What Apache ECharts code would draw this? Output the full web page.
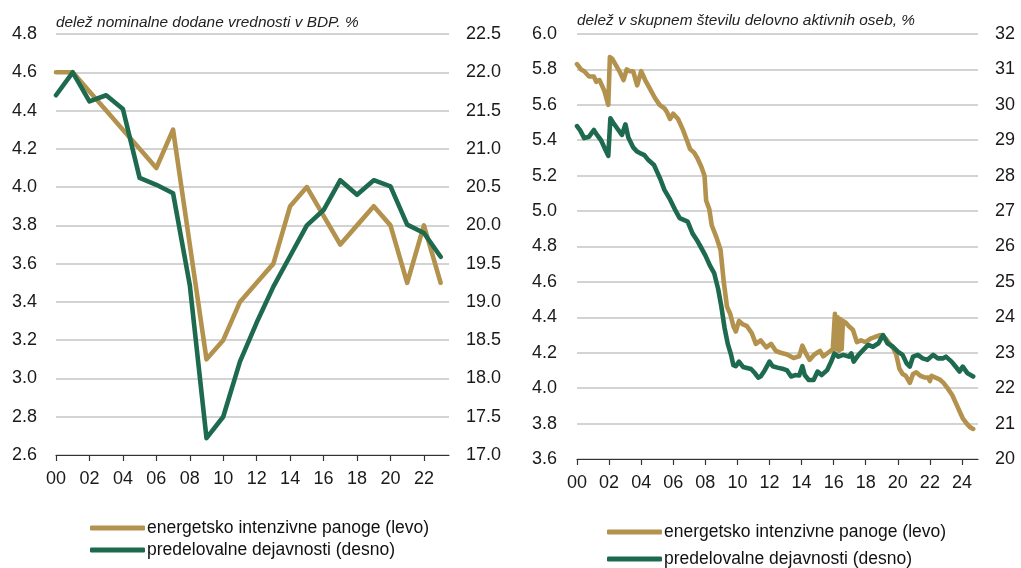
<!DOCTYPE html>
<html>
<head>
<meta charset="utf-8">
<script src="https://cdn.jsdelivr.net/npm/echarts@6/dist/echarts.min.js"></script>
<style>
html, body { margin: 0; padding: 0; background: #fff; }
#chart { width: 1021px; height: 568px; }
</style>
</head>
<body>
<div id="chart"></div>
<script>
// levi graf - letni podatki
const yearsL = [2000, 2001, 2002, 2003, 2004, 2005, 2006, 2007, 2008, 2009, 2010, 2011,
                2012, 2013, 2014, 2015, 2016, 2017, 2018, 2019, 2020, 2021, 2022, 2023]
const energyL = [4.6, 4.6, 4.5, 4.4, 4.3, 4.2, 4.1, 4.3, 3.7, 3.1, 3.2, 3.4,
                 3.5, 3.6, 3.9, 4.0, 3.85, 3.7, 3.8, 3.9, 3.8, 3.5, 3.8, 3.5]
const manufL = [21.7, 22.0, 21.62, 21.7, 21.52, 20.62, 20.53, 20.42, 19.22, 17.22, 17.5, 18.22,
                18.73, 19.2, 19.6, 20.0, 20.2, 20.59, 20.4, 20.59, 20.51, 20.01, 19.9, 19.59]

// desni graf - mesecni podatki (cas v letih)
const energyRX = [2000.0, 2000.25, 2000.45, 2000.75, 2001.05, 2001.2, 2001.4, 2001.7, 2001.95, 2002.05,
                  2002.2, 2002.45, 2002.7, 2002.9, 2003.1, 2003.3, 2003.5, 2003.75, 2004.0, 2004.25,
                  2004.55, 2004.85, 2005.15, 2005.45, 2005.6, 2005.8, 2006.0, 2006.3, 2006.6, 2006.85,
                  2007.05, 2007.3, 2007.5, 2007.75, 2007.95, 2008.05, 2008.25, 2008.4, 2008.7, 2008.95,
                  2009.15, 2009.35, 2009.55, 2009.75, 2009.9, 2010.1, 2010.35, 2010.6, 2010.9, 2011.15,
                  2011.45, 2011.8, 2012.1, 2012.4, 2012.7, 2013.1, 2013.5, 2013.85, 2014.05, 2014.25,
                  2014.5, 2014.8, 2015.15, 2015.35, 2015.65, 2015.95, 2016.04, 2016.08, 2016.17, 2016.25,
                  2016.33, 2016.42, 2016.5, 2016.58, 2016.75, 2016.95, 2017.2, 2017.45, 2017.7, 2018.0,
                  2018.3, 2018.6, 2018.95, 2019.25, 2019.5, 2019.75, 2019.9, 2020.1, 2020.3, 2020.5,
                  2020.75, 2020.95, 2021.15, 2021.4, 2021.7, 2021.9, 2022.0, 2022.1, 2022.35, 2022.6,
                  2022.85, 2023.1, 2023.4, 2023.65, 2023.85, 2024.05, 2024.3, 2024.5, 2024.7]
const energyRY = [5.83, 5.80, 5.79, 5.76, 5.76, 5.73, 5.74, 5.68, 5.60, 5.87,
                  5.86, 5.82, 5.78, 5.74, 5.80, 5.79, 5.79, 5.71, 5.79, 5.74,
                  5.69, 5.64, 5.60, 5.58, 5.56, 5.52, 5.55, 5.52, 5.46, 5.40,
                  5.35, 5.33, 5.30, 5.25, 5.20, 5.06, 5.01, 4.92, 4.85, 4.78,
                  4.60, 4.46, 4.42, 4.35, 4.32, 4.38, 4.36, 4.35, 4.31, 4.25,
                  4.27, 4.23, 4.25, 4.21, 4.20, 4.19, 4.17, 4.18, 4.24, 4.20,
                  4.16, 4.19, 4.21, 4.18, 4.20, 4.22, 4.21, 4.42, 4.22, 4.40,
                  4.21, 4.39, 4.22, 4.38, 4.37, 4.35, 4.33, 4.26, 4.27, 4.26,
                  4.28, 4.29, 4.30, 4.28, 4.25, 4.22, 4.19, 4.11, 4.08, 4.07,
                  4.03, 4.08, 4.09, 4.07, 4.06, 4.06, 4.04, 4.07, 4.06, 4.05,
                  4.03, 4.00, 3.96, 3.91, 3.87, 3.83, 3.80, 3.78, 3.77]

const manufRX = [2000.0, 2000.2, 2000.45, 2000.75, 2001.05, 2001.25, 2001.5, 2001.75, 2001.95, 2002.08,
                 2002.25, 2002.5, 2002.8, 2003.02, 2003.2, 2003.5, 2003.75, 2004.0, 2004.2, 2004.45,
                 2004.8, 2005.0, 2005.2, 2005.45, 2005.8, 2006.1, 2006.4, 2006.65, 2006.9, 2007.2,
                 2007.45, 2007.7, 2008.0, 2008.3, 2008.55, 2008.8, 2009.0, 2009.2, 2009.4, 2009.6,
                 2009.75, 2009.9, 2010.1, 2010.35, 2010.6, 2010.85, 2011.1, 2011.3, 2011.45, 2011.7,
                 2012.0, 2012.2, 2012.5, 2012.8, 2013.1, 2013.35, 2013.6, 2013.85, 2014.05, 2014.2,
                 2014.45, 2014.75, 2015.0, 2015.25, 2015.6, 2015.85, 2016.05, 2016.3, 2016.6, 2016.95,
                 2017.1, 2017.25, 2017.55, 2017.85, 2018.15, 2018.45, 2018.8, 2019.08, 2019.35, 2019.7,
                 2020.0, 2020.3, 2020.55, 2020.75, 2020.95, 2021.25, 2021.55, 2021.85, 2022.2, 2022.5,
                 2022.8, 2023.0, 2023.35, 2023.6, 2023.85, 2024.05, 2024.35, 2024.7]
const manufRY = [29.40, 29.28, 29.06, 29.10, 29.29, 29.15, 29.00, 28.75, 28.56, 29.62,
                 29.50, 29.34, 29.15, 29.45, 29.08, 28.80, 28.68, 28.62, 28.58, 28.44,
                 28.30, 28.10, 27.90, 27.60, 27.33, 27.05, 26.80, 26.75, 26.70, 26.37,
                 26.20, 26.00, 25.75, 25.45, 25.25, 24.80, 24.30, 23.70, 23.25, 22.95,
                 22.65, 22.62, 22.75, 22.60, 22.57, 22.54, 22.42, 22.30, 22.33, 22.50,
                 22.75, 22.62, 22.58, 22.55, 22.50, 22.33, 22.37, 22.36, 22.62, 22.37,
                 22.23, 22.23, 22.47, 22.37, 22.51, 22.75, 22.98, 22.89, 22.94, 22.89,
                 22.98, 22.75, 22.94, 23.08, 23.22, 23.17, 23.27, 23.50, 23.27, 23.17,
                 23.03, 22.94, 22.70, 22.61, 22.89, 22.94, 22.84, 22.80, 22.94, 22.84,
                 22.84, 22.89, 22.75, 22.61, 22.47, 22.61, 22.42, 22.33]

const ticksL = [2000, 2002, 2004, 2006, 2008, 2010, 2012, 2014, 2016, 2018, 2020, 2022]
const ticksR = [2000, 2002, 2004, 2006, 2008, 2010, 2012, 2014, 2016, 2018, 2020, 2022, 2024]

const titleL = 'delež nominalne dodane vrednosti v BDP. %'
const titleR = 'delež v skupnem številu delovno aktivnih oseb, %'
const nameEnergy = 'energetsko intenzivne panoge (levo)'
const nameManuf = 'predelovalne dejavnosti (desno)'

const GOLD = '#B3924E'
const GREEN = '#1E6A4F'
const FONT = '"Liberation Sans", Arial, sans-serif'

let chart = echarts.init(document.getElementById('chart'))

const zip = (xs, ys) => xs.map((x, i) => [x, ys[i]])
const yearLabel = v => String(Math.round(v) % 100).padStart(2, '0')

function xAxisFor(gridIndex, min, max, ticks) {
    return {
        type: 'value',
        gridIndex: gridIndex,
        min: min,
        max: max,
        interval: 2,
        splitLine: { show: false },
        axisLine: { show: true, lineStyle: { color: '#333', width: 1.2 } },
        axisTick: {
            show: true, length: 6, customValues: ticks,
            lineStyle: { color: '#333', width: 1.2 }
        },
        axisLabel: {
            customValues: ticks,
            margin: 15,
            fontSize: 18,
            fontFamily: FONT,
            color: '#1a1a1a',
            formatter: yearLabel
        }
    }
}

function yAxisFor(gridIndex, pos, min, max, interval, margin, digits, grid) {
    return {
        type: 'value',
        gridIndex: gridIndex,
        position: pos,
        min: min,
        max: max,
        interval: interval,
        axisLine: { show: false },
        axisTick: { show: false },
        splitLine: {
            show: grid,
            lineStyle: { color: '#c4c4c4', width: 1.5 }
        },
        axisLabel: {
            margin: margin,
            fontSize: 18,
            fontFamily: FONT,
            color: '#1a1a1a',
            formatter: v => v.toFixed(digits)
        }
    }
}

function lineSeries(name, data, xi, yi, color) {
    return {
        name: name,
        type: 'line',
        xAxisIndex: xi,
        yAxisIndex: yi,
        data: data,
        showSymbol: false,
        symbol: 'none',
        color: color,
        lineStyle: { color: color, width: 4.6, cap: 'round', join: 'round' },
        animation: false
    }
}

function legendAt(left, top, gap) {
    return {
        orient: 'vertical',
        left: left,
        top: top,
        itemGap: gap,
        itemWidth: 55,
        itemHeight: 5,
        icon: 'roundRect',
        padding: 0,
        selectedMode: false,
        data: [nameEnergy, nameManuf],
        textStyle: { fontSize: 17.5, fontFamily: FONT, color: '#111', padding: [0, 0, 0, -3] }
    }
}

let option = {
    backgroundColor: '#fff',
    animation: false,
    title: [
        {
            text: titleL, left: 56, top: 15, padding: 0,
            textStyle: { fontSize: 15.4, fontStyle: 'italic', fontWeight: 'normal', fontFamily: FONT, color: '#222' }
        },
        {
            text: titleR, left: 577, top: 13, padding: 0,
            textStyle: { fontSize: 15.4, fontStyle: 'italic', fontWeight: 'normal', fontFamily: FONT, color: '#222' }
        }
    ],
    legend: [legendAt(90, 519, 4), legendAt(607, 523, 9)],
    grid: [
        { left: 56, right: 572, top: 34, bottom: 113 },
        { left: 577, right: 43, top: 34, bottom: 109 }
    ],
    xAxis: [
        xAxisFor(0, 2000, 2023.5, ticksL),
        xAxisFor(1, 2000, 2025, ticksR)
    ],
    yAxis: [
        yAxisFor(0, 'left', 2.6, 4.8, 0.2, 19, 1, true),
        yAxisFor(0, 'right', 17, 22.5, 0.5, 17, 1, false),
        yAxisFor(1, 'left', 3.6, 6.0, 0.2, 20, 1, true),
        yAxisFor(1, 'right', 20, 32, 1, 17, 0, false)
    ],
    series: [
        lineSeries(nameEnergy, zip(yearsL, energyL), 0, 0, GOLD),
        lineSeries(nameManuf, zip(yearsL, manufL), 0, 1, GREEN),
        lineSeries(nameEnergy, zip(energyRX, energyRY), 1, 2, GOLD),
        lineSeries(nameManuf, zip(manufRX, manufRY), 1, 3, GREEN)
    ]
}

chart.setOption(option)
</script>
</body>
</html>
